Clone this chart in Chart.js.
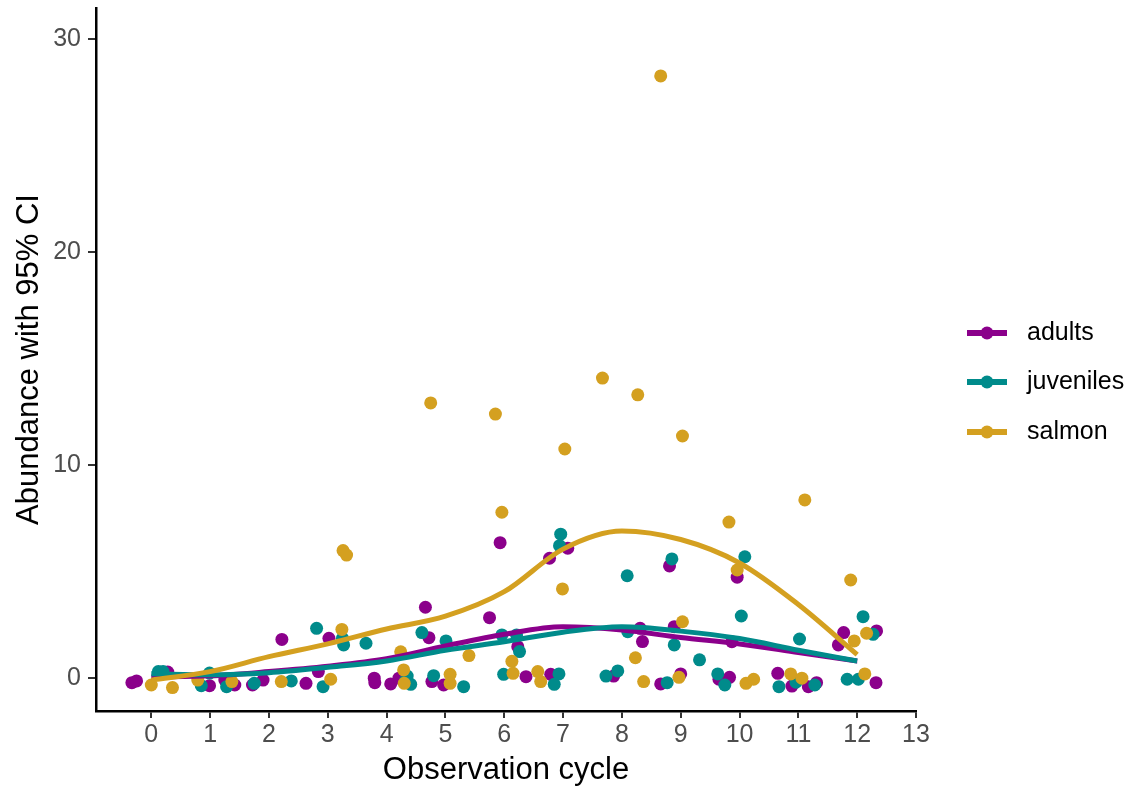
<!DOCTYPE html>
<html>
<head>
<meta charset="utf-8">
<script src="https://cdn.jsdelivr.net/npm/chart.js@4.4.1/dist/chart.umd.min.js"></script>
<style>
  html, body { margin: 0; padding: 0; background: #fff; }
  #wrap { width: 1133px; height: 789px; }
</style>
</head>
<body>
<div id="wrap"><canvas id="chart"></canvas></div>
<script>
// values
const seriesNames = ["adults", "juveniles", "salmon"];
const seriesColors = ["#8B008B", "#008B8B", "#D4A020"];
const xTicks = [0, 1, 2, 3, 4, 5, 6, 7, 8, 9, 10, 11, 12, 13];
const yTicks = [0, 10, 20, 30];

const adultsPts = [
  [-0.33,-0.22],[-0.25,-0.14],[0.28,0.28],[0.99,-0.36],[1.25,-0.1],[1.42,-0.33],[1.72,-0.33],
  [1.9,-0.1],[2.22,1.81],[2.63,-0.25],[2.84,0.3],[3.02,1.86],[3.79,-0.01],[3.8,-0.22],
  [4.07,-0.28],[4.21,-0.01],[4.66,3.32],[4.72,1.89],[4.77,-0.17],[4.97,-0.33],[5.75,2.83],
  [5.93,6.35],[6.23,1.47],[6.37,0.06],[6.77,5.62],[6.79,0.17],[7.08,6.09],[7.86,0.09],
  [8.31,2.33],[8.35,1.71],[8.66,-0.28],[8.81,5.26],[8.89,2.41],[9.0,0.19],[9.65,-0.06],
  [9.83,0.03],[9.87,1.7],[9.96,4.73],[10.65,0.22],[10.89,-0.38],[11.17,-0.41],[11.31,-0.22],
  [11.68,1.55],[11.77,2.13],[12.32,-0.22],[12.33,2.21]
];
const juvenilesPts = [
  [0.12,0.3],[0.2,0.3],[0.85,-0.36],[0.99,0.23],[1.28,-0.41],[1.75,-0.25],[2.38,-0.14],
  [2.81,2.33],[2.92,-0.41],[3.25,1.86],[3.27,1.55],[3.65,1.63],[4.33,-0.1],[4.35,0.09],
  [4.41,-0.3],[4.6,2.13],[4.8,0.11],[5.01,1.74],[5.31,-0.41],[5.96,2.02],[5.99,0.17],
  [6.21,2.02],[6.26,1.24],[6.85,-0.3],[6.93,0.19],[6.94,6.21],[6.96,6.75],[7.73,0.09],
  [7.93,0.33],[8.09,4.8],[8.1,2.17],[8.77,-0.22],[8.85,5.59],[8.89,1.55],[9.32,0.85],
  [9.63,0.19],[9.75,-0.33],[10.03,2.91],[10.09,5.69],[10.67,-0.41],[10.96,-0.2],[11.02,1.83],
  [11.28,-0.33],[11.83,-0.06],[12.02,-0.06],[12.1,2.88],[12.27,2.05]
];
const salmonPts = [
  [0.0,-0.33],[0.36,-0.45],[0.79,-0.1],[1.37,-0.17],[2.21,-0.17],[3.05,-0.06],[3.24,2.28],
  [3.26,5.98],[3.32,5.77],[4.24,1.23],[4.29,0.38],[4.3,-0.25],[4.75,12.91],[5.08,0.17],
  [5.08,-0.25],[5.4,1.05],[5.85,12.39],[5.96,7.78],[6.13,0.78],[6.15,0.22],[6.57,0.3],
  [6.62,-0.17],[6.99,4.18],[7.03,10.75],[7.67,14.08],[8.23,0.95],[8.27,13.29],[8.37,-0.17],
  [8.66,28.26],[8.97,0.03],[9.03,2.64],[9.03,11.36],[9.82,7.32],[9.96,5.07],[10.11,-0.25],
  [10.24,-0.06],[10.87,0.19],[11.06,-0.01],[11.11,8.36],[11.89,4.6],[11.95,1.74],[12.13,0.19],
  [12.16,2.1]
];

// smooth trend lines
const fitX = [0, 1, 2, 3, 4, 5, 6, 7, 8, 9, 10, 11, 12];
const adultsFit = [0.05, 0.1, 0.3, 0.55, 0.9, 1.5, 2.05, 2.4, 2.25, 1.9, 1.6, 1.2, 0.8];
const juvenilesFit = [0.2, 0.15, 0.25, 0.5, 0.8, 1.3, 1.7, 2.15, 2.4, 2.2, 1.85, 1.3, 0.8];
const salmonFit = [-0.1, 0.3, 1.0, 1.6, 2.3, 2.9, 4.05, 6.05, 6.9, 6.5, 5.4, 3.45, 1.1];

const FONT = "Arial, 'Liberation Sans', sans-serif";
const allPts = [adultsPts, juvenilesPts, salmonPts];
const allFits = [adultsFit, juvenilesFit, salmonFit];

const datasets = [];
allPts.forEach((pts, i) => {
  datasets.push({
    label: seriesNames[i] + " points",
    data: pts.map(p => ({ x: p[0], y: p[1] })),
    backgroundColor: seriesColors[i],
    borderWidth: 0,
    pointRadius: 6.5,
    order: 6 - i
  });
});
allFits.forEach((fit, i) => {
  datasets.push({
    label: seriesNames[i],
    data: fitX.map((x, j) => ({ x: x, y: fit[j] })),
    showLine: true,
    borderColor: seriesColors[i],
    borderWidth: 5,
    pointRadius: 0,
    cubicInterpolationMode: "monotone",
    order: 3 - i
  });
});

const legendPlugin = {
  id: "sideLegend",
  afterDraw(chart) {
    const ctx = chart.ctx;
    const ys = [333, 382, 432];
    ctx.save();
    seriesNames.forEach((name, i) => {
      const y = ys[i];
      ctx.strokeStyle = seriesColors[i];
      ctx.lineWidth = 6;
      ctx.beginPath();
      ctx.moveTo(967, y);
      ctx.lineTo(1007, y);
      ctx.stroke();
      ctx.fillStyle = seriesColors[i];
      ctx.beginPath();
      ctx.arc(987, y, 6.5, 0, Math.PI * 2);
      ctx.fill();
      ctx.fillStyle = "#000";
      ctx.font = "25px " + FONT;
      ctx.textBaseline = "middle";
      ctx.textAlign = "left";
      ctx.fillText(name, 1027, y);
    });
    ctx.restore();
  }
};

new Chart(document.getElementById("chart"), {
  type: "scatter",
  data: { datasets: datasets },
  plugins: [legendPlugin],
  options: {
    responsive: true,
    maintainAspectRatio: false,
    animation: false,
    layout: { padding: { top: 8, right: 217, left: 0, bottom: 0 } },
    plugins: { legend: { display: false }, tooltip: { enabled: false } },
    scales: {
      x: {
        type: "linear",
        min: -0.94,
        max: 13,
        afterBuildTicks: s => { s.ticks = xTicks.map(v => ({ value: v })); },
        afterFit: s => { s.height = 78; s.paddingLeft = 0; s.paddingRight = 0; },
        grid: { display: true, drawOnChartArea: false, drawTicks: true, tickLength: 7, color: "#333", lineWidth: 2 },
        border: { display: true, color: "#000", width: 2.5 },
        ticks: { color: "#4D4D4D", font: { size: 25, family: FONT }, padding: 2, maxRotation: 0, autoSkip: false },
        title: { display: true, text: "Observation cycle", color: "#000", font: { size: 31, family: FONT }, padding: { top: 0, bottom: 0 } }
      },
      y: {
        type: "linear",
        min: -1.55,
        max: 31.45,
        afterBuildTicks: s => { s.ticks = yTicks.map(v => ({ value: v })); },
        afterFit: s => { s.width = 96; s.paddingTop = 0; s.paddingBottom = 0; },
        grid: { display: true, drawOnChartArea: false, drawTicks: true, tickLength: 8, color: "#333", lineWidth: 2 },
        border: { display: true, color: "#000", width: 2.5 },
        ticks: { color: "#4D4D4D", font: { size: 25, family: FONT }, padding: 7 },
        title: { display: true, text: "Abundance with 95% CI", color: "#000", font: { size: 31, family: FONT }, padding: { top: 11, bottom: 0 } }
      }
    }
  }
});
</script>
</body>
</html>
